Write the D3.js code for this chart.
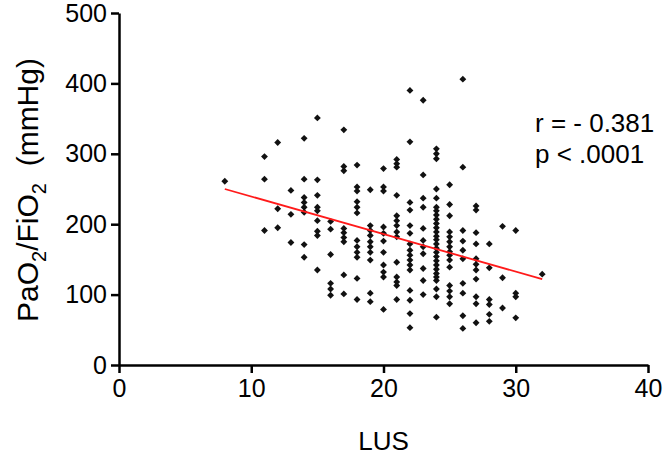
<!DOCTYPE html>
<html>
<head>
<meta charset="utf-8">
<script src="https://cdn.jsdelivr.net/npm/d3@7"></script>
<style>
  body { margin: 0; background: #fff; }
  svg { display: block; font-family: "Liberation Sans", Arial, Helvetica, sans-serif; }
</style>
</head>
<body>
<svg id="chart" width="666" height="464"></svg>
<script>
// LUS score columns and the PaO2/FiO2 values read in each column
const lusScores = [8, 11, 12, 13, 14, 15, 16, 17, 18, 19, 20, 21, 22, 23, 24, 25, 26, 27, 28, 29, 30, 32];
const pfByScore = [
  [261],
  [296, 264, 191],
  [316, 222, 195],
  [248, 214, 174],
  [322, 264, 238, 231, 224, 217, 171, 153],
  [351, 263, 241, 224, 219, 205, 190, 184, 135],
  [204, 193, 157, 116, 108, 99],
  [334, 282, 276, 194, 188, 181, 175, 128, 101],
  [284, 253, 247, 232, 224, 216, 177, 168, 160, 153, 123, 93],
  [249, 198, 191, 184, 175, 168, 160, 149, 102, 90],
  [279, 253, 247, 196, 187, 176, 160, 142, 132, 125, 79],
  [292, 286, 281, 241, 212, 205, 198, 189, 182, 146, 125, 118, 113, 93],
  [390, 317, 231, 220, 198, 187, 172, 163, 156, 149, 142, 135, 106, 92, 73, 53],
  [376, 270, 237, 224, 194, 177, 168, 158, 137, 120, 100],
  [307, 300, 293, 250, 237, 224, 219, 213, 207, 201, 195, 189, 183, 178, 172, 166, 160, 154, 148, 142, 136, 130, 125, 120, 108, 97, 68],
  [256, 228, 212, 189, 182, 175, 168, 161, 156, 149, 139, 113, 105, 97, 87],
  [406, 281, 191, 176, 163, 151, 116, 102, 70, 52],
  [226, 220, 188, 172, 151, 143, 135, 122, 97, 87, 60],
  [172, 138, 93, 86, 72, 62],
  [197, 124, 81],
  [191, 102, 97, 67],
  [129]
];

// fitted line end points
const fitX = [8, 32];
const fitY = [250, 122];

const xTicks = [0, 10, 20, 30, 40];
const yTicks = [0, 100, 200, 300, 400, 500];
const statLines = ['r = - 0.381', 'p < .0001'];

const points = [];
lusScores.forEach((s, i) => pfByScore[i].forEach(v => points.push({ lus: s, pf: v })));

const svg = d3.select('#chart');

const x = d3.scaleLinear().domain([0, 40]).range([119, 648]);
const y = d3.scaleLinear().domain([0, 500]).range([365, 13]);

// axes
const xAxis = svg.append('g')
  .attr('transform', 'translate(0,' + y(0) + ')')
  .call(d3.axisBottom(x).tickValues(xTicks).tickSize(8).tickSizeOuter(0).tickPadding(6));

const yAxis = svg.append('g')
  .attr('transform', 'translate(' + x(0) + ',0)')
  .call(d3.axisLeft(y).tickValues(yTicks).tickSize(8).tickSizeOuter(0).tickPadding(4));

[xAxis, yAxis].forEach(a => {
  a.select('.domain').attr('stroke', '#000').attr('stroke-width', 2.5);
  a.selectAll('.tick line').attr('stroke', '#000').attr('stroke-width', 2.5);
  a.selectAll('.tick text').attr('fill', '#000').style('font-size', '25px');
});

// scatter
const diamond = d3.symbol().type(d3.symbolDiamond2).size(30);
svg.append('g')
  .selectAll('path')
  .data(points)
  .join('path')
    .attr('d', diamond)
    .attr('transform', d => 'translate(' + x(d.lus) + ',' + y(d.pf) + ')')
    .attr('fill', '#111');

// regression line
svg.append('path')
  .datum(fitX.map((v, i) => [v, fitY[i]]))
  .attr('fill', 'none')
  .attr('stroke', '#ff1a1a')
  .attr('stroke-width', 1.8)
  .attr('d', d3.line().x(d => x(d[0])).y(d => y(d[1])));

// stats text
svg.append('g')
  .selectAll('text')
  .data(statLines)
  .join('text')
    .attr('x', 535)
    .attr('y', (d, i) => 132 + i * 31)
    .style('font-size', '26px')
    .text(d => d);

// axis titles
svg.append('text')
  .attr('x', x(20))
  .attr('y', 450)
  .attr('text-anchor', 'middle')
  .style('font-size', '26px')
  .text('LUS');

const yTitle = svg.append('text')
  .attr('transform', 'translate(38,' + 190 + ') rotate(-90)')
  .attr('text-anchor', 'middle')
  .style('font-size', '30px');
yTitle.append('tspan').text('PaO');
yTitle.append('tspan').attr('dy', 8).style('font-size', '20px').text('2');
yTitle.append('tspan').attr('dy', -8).text('/FiO');
yTitle.append('tspan').attr('dy', 8).style('font-size', '20px').text('2');
yTitle.append('tspan').attr('dy', -8).text('\u00a0 (mmHg)');
</script>
</body>
</html>
